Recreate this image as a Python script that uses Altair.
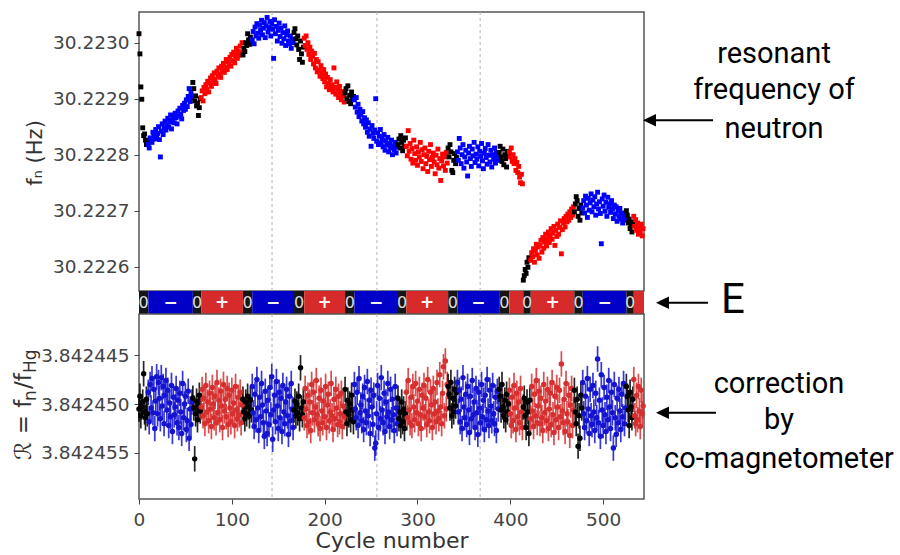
import altair as alt
import pandas as pd

# ---------------- data ----------------
FN_BASE = 30.2225          # Hz, fn = FN_BASE + fn_offset * FN_UNIT
FN_UNIT = 1e-6
R_BASE = 3.842450          # R = R_BASE + r_offset * R_UNIT
R_UNIT = 1e-7
R_ERR = 1.3e-6             # one-sigma error bar on R

# electric-field polarity sequence (cycle ranges)
seg_start = [0, 10, 58, 67, 112, 122, 167, 178, 222, 232, 279, 288, 333, 343, 388, 399, 414, 422, 469, 478, 525, 533]
seg_end = [10, 58, 67, 112, 122, 167, 178, 222, 232, 279, 288, 333, 343, 388, 399, 414, 422, 469, 478, 525, 533, 544]
seg_pol = ['0', '-', '0', '+', '0', '-', '0', '+', '0', '-', '0', '+', '0', '-', '0', '+', '0', '+', '0', '-', '0', '+']
seg_label = ['0', '\u2212', '0', '+', '0', '\u2212', '0', '+', '0', '\u2212', '0', '+', '0', '\u2212', '0', '', '0', '+', '0', '\u2212', '0', '']

# resonant neutron frequency, one value per cycle (micro-Hz above FN_BASE)
fn_offset = [
    516, 480, 421, 399, 348, 334, 337, 326, 318, 322,
    318, 312, 330, 325, 322, 340, 335, 328, 345, 333,
    338, 350, 327, 296, 342, 355, 336, 348, 360, 344,
    352, 365, 349, 358, 371, 346, 362, 368, 357, 374,
    366, 355, 378, 369, 383, 372, 364, 388, 379, 392,
    381, 398, 386, 404, 418, 395, 410, 402,
    429, 418, 396, 405, 387, 392, 370, 384, 400,
    402, 414, 396, 420, 409, 425, 417, 431, 412, 428,
    437, 422, 441, 430, 446, 434, 427, 449, 440, 455,
    444, 438, 458, 450, 463, 447, 456, 470, 452, 466,
    460, 474, 458, 479, 468, 483, 464, 477, 490, 472,
    485, 478, 494, 482, 500,
    478, 490, 484, 500, 495, 516, 505, 497, 510, 502,
    505, 520, 498, 528, 512, 534, 517, 508, 531, 522,
    540, 514, 526, 536, 509, 530, 545, 519, 527, 538,
    512, 533, 524, 472, 541, 516, 529, 503, 522, 535,
    511, 526, 499, 518, 507, 530, 495, 514, 521, 503,
    498, 512, 490, 506, 500,
    518, 525, 507, 496, 512, 488, 470, 503, 480, 465, 492,
    508, 495, 512, 488, 500, 479, 492, 470, 485, 476,
    462, 481, 455, 470, 448, 466, 451, 440, 459, 445,
    436, 452, 430, 444, 421, 438, 427, 416, 434, 419,
    425, 412, 455, 420, 408, 430, 415, 402, 422, 410,
    398, 413, 405, 394,
    410, 418, 400, 423, 395, 406, 391, 412, 399, 404,
    398, 385, 402, 376, 390, 368, 381, 372, 360, 377,
    355, 366, 349, 362, 340, 357, 333, 346, 315, 352,
    338, 329, 344, 400, 324, 339, 318, 333, 345, 321,
    328, 314, 336, 308, 325, 317, 331, 305, 320, 312,
    326, 300, 316, 309, 322, 303, 314,
    318, 328, 312, 334, 322, 307, 326, 315, 330,
    315, 298, 343, 306, 320, 292, 311, 285, 326, 302,
    290, 314, 281, 305, 296, 322, 288, 309, 275, 300,
    312, 284, 297, 270, 306, 291, 318, 279, 295, 303,
    287, 266, 299, 282, 310, 276, 293, 254, 289, 301,
    280, 296, 272, 304, 285,
    312, 296, 318, 305, 272, 268, 290, 302, 284, 295,
    305, 290, 329, 312, 284, 300, 318, 276, 296, 308,
    287, 262, 303, 315, 293, 279, 310, 298, 322, 286,
    301, 292, 314, 280, 306, 297, 320, 289, 275, 303,
    311, 295, 283, 318, 299, 287, 308, 278, 300, 292,
    312, 285, 304, 296, 290,
    304, 315, 296, 288, 310, 282, 300, 293, 278, 306, 298,
    305, 296, 312, 288, 300, 284, 293, 272, 286, 268, 279, 260, 250, 265, 248,
    76, 84, 95, 88, 108, 99, 116, 112,
    112, 125, 118, 132, 108, 128, 140, 121, 135, 115,
    138, 147, 126, 152, 133, 144, 158, 137, 150, 162,
    143, 155, 168, 149, 160, 172, 138, 165, 154, 176,
    158, 170, 182, 123, 166, 178, 186, 171, 190, 180,
    194, 183, 198, 188, 203, 192, 207,
    198, 212, 225, 218, 190, 204, 183, 210, 196,
    205, 218, 196, 226, 210, 188, 222, 201, 214, 230,
    198, 219, 207, 225, 192, 212, 233, 203, 216, 195,
    141, 221, 208, 228, 199, 215, 190, 224, 206, 212,
    197, 218, 203, 186, 210, 194, 207, 181, 199, 190,
    204, 185, 196, 178, 192, 183, 188,
    200, 192, 178, 185, 168, 175, 162, 180,
    190, 172, 184, 165, 178, 158, 170, 162, 176, 155, 168,
]

# ratio R = fn / fHg, one value per cycle (units of 1e-7 above R_BASE)
r_offset = [
    5, -8, 12, 3, -2, -31, 8, 14, -5, 10,
    -12, 18, -20, 4, -26, 9, -15, 25, -3, -28,
    10, -22, -6, 15, -27, 2, -18, 20, -9, -24,
    6, -14, 22, -1, 13, -19, 28, -7, 11, 3,
    -16, 19, -4, 24, -11, 8, 30, -21, 14, 0,
    -8, 26, 17, -13, 35, 5, 21, -2,
    -6, 4, 56, 10, -3, 16, 2, -9, 7,
    3, -15, 12, -6, 20, -19, 8, -2, 17, -11,
    5, 23, -17, 0, 14, -8, 19, -22, 9, -4,
    16, -13, 2, 24, -20, 7, -5, 13, -16, 21,
    -9, 4, 18, -14, 10, -1, 22, -18, 6, 15,
    -7, 11, -12, 19, 1,
    -5, 8, 15, -2, 10, -8, 3, 12, -4, 6,
    -18, 9, 23, -10, 16, -25, 4, 27, -7, 13,
    -21, 1, 19, 33, -13, 7, 30, -4, 21, -17,
    11, -28, 36, 6, -9, 18, -23, 2, 25, -12,
    14, -6, 28, -19, 8, 20, -2, -15, 12, 31,
    -8, 17, -21, 5, 24,
    6, -3, 12, 0, 9, -8, 15, -37, 4, 11, -2,
    14, -16, 5, 22, -9, 18, -2, 27, -20, 9,
    -12, 16, 3, -24, 11, 20, -6, 25, -14, 7,
    19, -3, 13, -18, 24, 1, -10, 17, 8, -21,
    12, 26, -5, 15, -15, 4, 21, -8, 18, 10,
    -11, 23, 2, 13,
    -15, 8, 20, -4, 11, 0, 16, -9, 6, 18,
    -20, 5, 14, -12, 22, -26, 9, 1, 17, -8,
    26, -17, 7, 19, -23, 12, -4, 30, -14, 3,
    21, -9, 45, 40, 10, -19, 24, -6, 15, -27,
    6, 19, -11, 28, -2, 13, -21, 8, 23, -15,
    16, -5, 11, 27, -18, 4, 20,
    -6, 15, 8, 22, -2, 18, 5, 25, 10,
    -12, 14, -24, 6, 19, -7, 22, -18, 3, 16,
    -21, 9, -3, 20, -15, 11, 25, -9, 4, -19,
    13, -6, 21, -25, 8, 17, -12, 1, 24, -16,
    10, -2, 18, -22, 7, 15, -30, 3, 20, -11,
    -38, 12, -44, 5, -20,
    -18, -10, 4, -22, 12, -6, 8, -15, 2, -12,
    -22, 8, -14, 18, -5, 25, -27, 3, 14, -10,
    21, -18, 6, 29, -8, 15, -24, 11, -2, 24,
    -16, 9, 31, -12, 4, 19, -20, 13, -4, 26,
    -9, 16, -25, 7, 22, -14, 2, 17, -19, 10,
    20, -7, 27, -13, 5,
    -15, -8, 6, -20, 3, 12, -4, 16, -10, 8, 0,
    -14, 10, 22, -7, 17, -19, 4, 26, -11, 13, -2, 19, -16, 8, 24,
    3, -6, 12, 24, -2, 8, 30, -4,
    15, -18, 7, 23, -10, 12, -24, 19, 2, -13,
    20, -6, 14, 27, -20, 9, -3, 17, -15, 25,
    5, -11, 21, -22, 11, 29, -8, 16, -17, 3,
    24, -14, 13, -41, 7, 19, -5, 28, -21, 10,
    18, -9, 32, 1, -16, 22, 6,
    -14, 8, 20, -5, 43, 12, 35, -9, 4,
    -22, 10, 24, -8, 17, -26, 5, 30, -15, 12,
    21, -19, 8, 27, -11, 14, -46, 19, -4, 33,
    -30, 6, 22, -17, 11, 28, -7, 16, -24, 3,
    25, -12, 9, 45, -20, 14, 31, -6, 19, -15,
    7, 26, -10, 13, -21, 20, 4,
    -18, -8, 6, 22, -12, 3, 14, -5,
    -25, 12, 20, -9, 16, -18, 7, 23, -14, 10, 2,
]

vline_cycles = [143.3, 256.3, 367.5]
fn_ticks = [30.2226, 30.2227, 30.2228, 30.2229, 30.2230]
r_ticks = [3.842445, 3.842450, 3.842455]
cycle_ticks = [0, 100, 200, 300, 400, 500]
pol_domain = ['0', '-', '+']

# ---------------- tables ----------------
def pol_of(c):
    for s, e, p in zip(seg_start, seg_end, seg_pol):
        if s <= c < e:
            return p
    return seg_pol[-1]

top_cycles = list(range(len(fn_offset)))
top_df = pd.DataFrame({
    'cycle': top_cycles,
    'fn': [FN_BASE + v * FN_UNIT for v in fn_offset],
    'pol': [pol_of(c) for c in top_cycles],
})
bot_cycles = list(range(len(r_offset)))
r_vals = [R_BASE + v * R_UNIT for v in r_offset]
bot_df = pd.DataFrame({
    'cycle': bot_cycles,
    'R': r_vals,
    'lo': [r - R_ERR for r in r_vals],
    'hi': [r + R_ERR for r in r_vals],
    'pol': [pol_of(c) for c in bot_cycles],
})
seg_df = pd.DataFrame({'s': seg_start, 'e': seg_end, 'pol': seg_pol, 'label': seg_label})
vline_df = pd.DataFrame({'cycle': vline_cycles})
one = pd.DataFrame({'k': [0]})

# ---------------- layout ----------------
W = 505
TOP_H = 279
STRIP_H = 23
BOT_H = 185
LABEL_FONT = 'DejaVu Sans'
ANN_FONT = 'Roboto'
TITLE_COLOR = '#333333'

x_scale = alt.Scale(domain=[0, 544], nice=False, zero=False)
top_colors = alt.Scale(domain=pol_domain, range=['#000000', '#0000ff', '#ff0000'])
bot_colors = alt.Scale(domain=pol_domain, range=['#000000', '#1414d0', '#d62f2f'])
strip_colors = alt.Scale(domain=pol_domain, range=['#151515', '#0000c8', '#d72b2b'])


def txt(s, x, y, size, font=ANN_FONT, align='center', baseline='alphabetic', angle=0,
        color='black', weight='normal'):
    return alt.Chart(one).mark_text(
        text=s, font=font, fontSize=size, align=align, baseline=baseline,
        angle=angle, color=color, fontWeight=weight
    ).encode(x=alt.value(x), y=alt.value(y))


def arrow(tip_x, end_x, y):
    line = alt.Chart(one).mark_rule(color='black', strokeWidth=2).encode(
        x=alt.value(tip_x + 10), x2=alt.value(end_x), y=alt.value(y))
    head = alt.Chart(one).mark_point(
        shape='M-1,0L1,-0.95L1,0.95Z', filled=True, size=170, color='black', opacity=1,
        strokeWidth=0
    ).encode(x=alt.value(tip_x + 6.5), y=alt.value(y))
    return line + head


# top panel
origin_anchor = alt.Chart(one).mark_rule(opacity=0, strokeOpacity=0).encode(
    x=alt.value(-138), y=alt.value(-11), y2=alt.value(-10))

top_x = alt.X('cycle:Q', scale=x_scale, axis=None)
top_vlines = alt.Chart(vline_df).mark_rule(
    color='#b3b3b3', strokeDash=[3, 3], strokeWidth=1).encode(x=top_x)
top_pts = alt.Chart(top_df).mark_square(size=24, opacity=1).encode(
    x=top_x,
    y=alt.Y('fn:Q', scale=alt.Scale(domain=[30.2225566, 30.2230548], nice=False, zero=False),
            axis=alt.Axis(values=fn_ticks, format='.4f', title=None)),
    color=alt.Color('pol:N', scale=top_colors, legend=None),
)

top = alt.layer(
    origin_anchor,
    top_vlines,
    top_pts,
    txt('f\u2099 (Hz)', -97, 141, 21, font=LABEL_FONT, angle=270, color=TITLE_COLOR),
    txt('resonant', 635, 50.7, 29),
    txt('frequency of', 635, 87.3, 29),
    txt('neutron', 635, 125.7, 29),
    arrow(504, 574, 108.3),
).properties(width=W, height=TOP_H)

# E-field strip
strip_rect = alt.Chart(seg_df).mark_rect().encode(
    x=alt.X('s:Q', scale=x_scale, axis=None),
    x2='e:Q',
    y=alt.value(0), y2=alt.value(STRIP_H),
    color=alt.Color('pol:N', scale=strip_colors, legend=None),
)
strip_base = alt.Chart(seg_df).transform_calculate(mid='(datum.s + datum.e) / 2')
strip_zero = strip_base.transform_filter("datum.pol == '0'").mark_text(
    font=LABEL_FONT, fontSize=16, color='#dddddd', baseline='middle', align='center'
).encode(x=alt.X('mid:Q', scale=x_scale, axis=None), y=alt.value(12), text='label:N')
strip_sign = strip_base.transform_filter("datum.pol != '0'").mark_text(
    font=LABEL_FONT, fontSize=17, fontWeight='bold', color='#f4f4f4', baseline='middle', align='center'
).encode(x=alt.X('mid:Q', scale=x_scale, axis=None), y=alt.value(12), text='label:N')

strip = alt.layer(
    strip_rect, strip_zero, strip_sign,
    txt('E', 594, 21.7, 42),
    arrow(517, 569, 11.7),
).properties(width=W, height=STRIP_H, view=alt.ViewBackground(strokeOpacity=0))

# bottom panel
r_scale = alt.Scale(domain=[3.8424408, 3.8424597], nice=False, zero=False, reverse=True)
bot_axis_x = alt.Axis(values=cycle_ticks, format='d', title='Cycle number',
                      titleFont=LABEL_FONT, titleFontSize=22, titleFontWeight='normal',
                      titleColor=TITLE_COLOR, titlePadding=2, labelPadding=6,
                      labelFlush=False)
bot_x = alt.X('cycle:Q', scale=x_scale, axis=bot_axis_x)
bot_axis_y = alt.Axis(values=r_ticks, format='.6f', title=None)

bot_vlines = alt.Chart(vline_df).mark_rule(
    color='#b3b3b3', strokeDash=[3, 3], strokeWidth=1).encode(x=bot_x)
bot_err = alt.Chart(bot_df).mark_rule(strokeWidth=1.7, opacity=0.85).encode(
    x=bot_x,
    y=alt.Y('lo:Q', scale=r_scale, axis=bot_axis_y),
    y2='hi:Q',
    color=alt.Color('pol:N', scale=bot_colors, legend=None),
)
bot_dot = alt.Chart(bot_df).mark_circle(size=30, opacity=1).encode(
    x=bot_x,
    y=alt.Y('R:Q', scale=r_scale, axis=bot_axis_y),
    color=alt.Color('pol:N', scale=bot_colors, legend=None),
)

bottom = alt.layer(
    bot_vlines,
    bot_err,
    bot_dot,
    txt('\u211b = f', -108, 146, 23, font=LABEL_FONT, angle=270, align='left', color=TITLE_COLOR),
    txt('n', -103, 87, 17, font=LABEL_FONT, angle=270, align='left', color=TITLE_COLOR),
    txt('/f', -108, 75, 23, font=LABEL_FONT, angle=270, align='left', color=TITLE_COLOR),
    txt('Hg', -103, 59, 17, font=LABEL_FONT, angle=270, align='left', color=TITLE_COLOR),
    txt('correction', 640, 78.7, 29),
    txt('by', 640, 115, 29),
    txt('co-magnetometer', 640, 153.7, 29),
    arrow(517, 577, 98.7),
).properties(width=W, height=BOT_H)

chart = alt.vconcat(top, strip, bottom, spacing=0, bounds='flush').resolve_scale(
    color='independent', x='independent', y='independent'
).properties(
    padding={'left': 0, 'top': 0, 'right': 0, 'bottom': 0}
).configure_view(
    stroke='#555555', strokeWidth=1.5
).configure_axis(
    labelFont=LABEL_FONT, labelFontSize=18.5, labelColor='#444444',
    tickColor='#444444', tickSize=5, tickWidth=1, labelPadding=5,
    domain=False, grid=False,
)

chart.save('out.html', embed_options={'renderer': 'svg', 'actions': False})
